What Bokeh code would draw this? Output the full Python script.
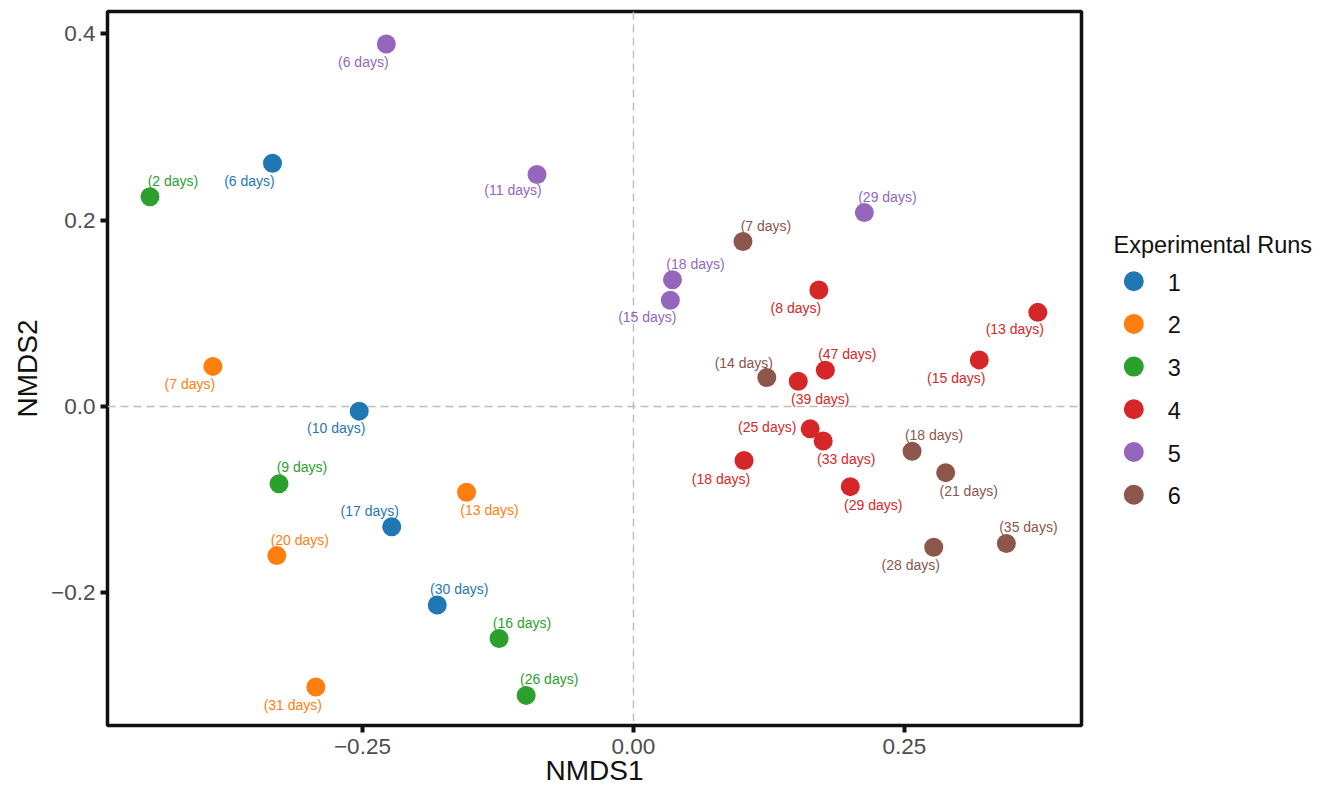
from bokeh.plotting import figure
from bokeh.layouts import row
from bokeh.models import (ColumnDataSource, Range1d, FixedTicker,
                          CustomJSTickFormatter, Span, Label)
from bokeh.transform import factor_cmap
from bokeh.core.properties import value
from bokeh.embed import file_html
from bokeh.resources import INLINE

# ---------------- data ----------------
runs = ["1", "2", "3", "4", "5", "6"]
run_colors = ["#1f77b4", "#ff7f0e", "#2ca02c", "#d62728", "#9467bd", "#8c564b"]

point_run = ["1", "1", "1", "1",
             "2", "2", "2", "2",
             "3", "3", "3", "3",
             "4", "4", "4", "4", "4", "4", "4", "4", "4",
             "5", "5", "5", "5", "5",
             "6", "6", "6", "6", "6", "6"]
days = [6, 10, 17, 30,
        7, 13, 20, 31,
        2, 9, 16, 26,
        8, 13, 15, 18, 25, 29, 33, 39, 47,
        6, 11, 15, 18, 29,
        7, 14, 18, 21, 28, 35]
nmds1 = [-0.333, -0.253, -0.223, -0.181,
         -0.388, -0.154, -0.329, -0.293,
         -0.446, -0.327, -0.124, -0.099,
         0.171, 0.373, 0.319, 0.102, 0.163, 0.200, 0.175, 0.152, 0.177,
         -0.228, -0.089, 0.034, 0.036, 0.213,
         0.101, 0.123, 0.257, 0.288, 0.277, 0.344]
nmds2 = [0.261, -0.005, -0.129, -0.213,
         0.043, -0.092, -0.160, -0.301,
         0.225, -0.083, -0.249, -0.310,
         0.125, 0.101, 0.050, -0.058, -0.024, -0.086, -0.037, 0.027, 0.039,
         0.389, 0.249, 0.114, 0.136, 0.208,
         0.177, 0.031, -0.048, -0.071, -0.151, -0.147]

# label placement (screen pixel offsets, as a repel layout would give)
label_dx = [-23, -23, -22, 22,
            -23, 23, 23, -23,
            23, 23, 23, 23,
            -23, -23, -23, -23, -43, 23, 23, 22, 22,
            -23, -24, -23, 23, 23,
            23, -23, 22, 23, -23, 22]
label_dy = [18, 17, -16, -16,
            18, 18, -16, 18,
            -16, -17, -16, -16,
            18, 17, 18, 18, -2, 18, 18, 18, -16,
            18, 16, 17, -16, -16,
            -16, -15, -16, 18, 18, -16]

x_ticks = [-0.25, 0.0, 0.25]
y_ticks = [-0.2, 0.0, 0.2, 0.4]

x_title = "NMDS1"
y_title = "NMDS2"
legend_title = "Experimental Runs"

FONT = "Liberation Sans"

# ---------------- main plot ----------------
src = ColumnDataSource(dict(
    x=nmds1, y=nmds2, run=point_run,
    label=["(%d days)" % d for d in days],
    dx=label_dx, dy=label_dy,
))

p = figure(width=1090, height=788,
           x_range=Range1d(-0.4852, 0.4133), y_range=Range1d(-0.3423, 0.4238),
           output_backend="svg", toolbar_location=None,
           min_border_left=107, min_border_right=9,
           min_border_top=11, min_border_bottom=63,
           x_axis_label=x_title, y_axis_label=y_title)
p.frame_align = False
p.xgrid.visible = False
p.ygrid.visible = False
p.background_fill_color = "white"
p.border_fill_color = "white"
p.outline_line_color = "#111111"
p.outline_line_width = 3.5

for ax in (p.xaxis[0], p.yaxis[0]):
    ax.axis_line_color = None
    ax.major_tick_line_color = "#111111"
    ax.major_tick_line_width = 4
    ax.major_tick_out = 7
    ax.major_tick_in = 0
    ax.minor_tick_line_color = None
    ax.major_label_text_font = FONT
    ax.major_label_text_font_size = "22.5px"
    ax.major_label_text_color = "#4d4d4d"
    ax.axis_label_text_font = FONT
    ax.axis_label_text_font_size = "28px"
    ax.axis_label_text_font_style = "normal"
    ax.axis_label_text_color = "#111111"

p.xaxis.ticker = FixedTicker(ticks=x_ticks)
p.yaxis.ticker = FixedTicker(ticks=y_ticks)
p.xaxis.formatter = CustomJSTickFormatter(
    code="return tick.toFixed(2).replace('-', '\u2212');")
p.yaxis.formatter = CustomJSTickFormatter(
    code="return tick.toFixed(1).replace('-', '\u2212');")
p.xaxis.major_label_standoff = 6
p.yaxis.major_label_standoff = 5
p.xaxis.axis_label_standoff = -2
p.yaxis.axis_label_standoff = 5

p.add_layout(Span(location=0, dimension="width", line_color="#bdbdbd",
                  line_width=1.4, line_dash="8 5", level="underlay"))
p.add_layout(Span(location=0, dimension="height", line_color="#bdbdbd",
                  line_width=1.4, line_dash="8 5", level="underlay"))

cmap = factor_cmap("run", palette=run_colors, factors=runs)
p.scatter(x="x", y="y", source=src, size=19, fill_color=cmap,
          line_color=None, marker="circle")
p.text(x="x", y="y", text="label", source=src, x_offset="dx", y_offset="dy",
       text_color=cmap, text_font=value(FONT), text_font_size=value("14px"),
       text_align="center", text_baseline="middle")

# ---------------- legend panel ----------------
leg = figure(width=233, height=788, x_range=Range1d(0, 233),
             y_range=Range1d(788, 0), output_backend="svg",
             toolbar_location=None, min_border=0,
             x_axis_location=None, y_axis_location=None)
leg.frame_align = False
leg.outline_line_color = None
leg.grid.visible = False

row_gap = 42.7
leg_src = ColumnDataSource(dict(
    run=runs,
    gx=[43.3] * len(runs),
    gy=[280.7 + row_gap * i for i in range(len(runs))],
    tx=[77.3] * len(runs),
    ty=[281.7 + row_gap * i for i in range(len(runs))],
))
leg.scatter(x="gx", y="gy", source=leg_src, size=20, marker="circle",
            fill_color=factor_cmap("run", palette=run_colors, factors=runs),
            line_color=None)
leg.text(x="tx", y="ty", text="run", source=leg_src, text_color="#111111",
         text_font=value(FONT), text_font_size=value("23.5px"),
         text_align="left", text_baseline="middle")
leg.add_layout(Label(x=23, y=244.3, text=legend_title, text_font=FONT,
                     text_font_size="23.5px", text_color="#111111",
                     text_align="left", text_baseline="alphabetic"))

layout = row(p, leg)
open("out.html", "w").write(file_html(layout, INLINE))
